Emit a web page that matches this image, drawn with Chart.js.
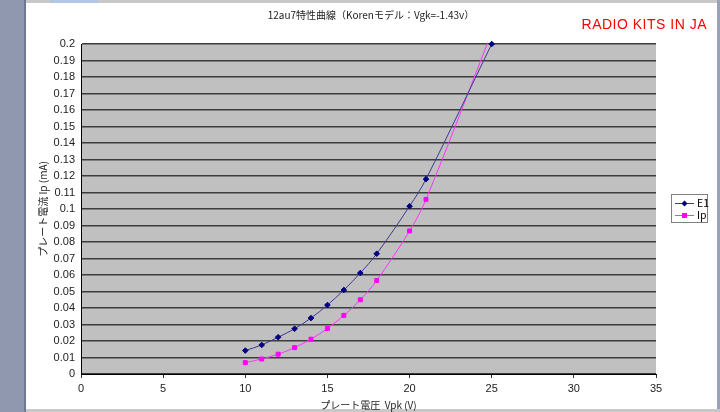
<!DOCTYPE html>
<html><head><meta charset="utf-8">
<script src="https://cdn.jsdelivr.net/npm/chart.js@4/dist/chart.umd.min.js"></script>
<style>
html,body{margin:0;padding:0;width:720px;height:412px;overflow:hidden;background:#fff;}
#wrap{position:relative;width:720px;height:412px;}
.l{position:absolute;left:0;top:0;width:24px;height:412px;background:#8f98ae;}
.l2{position:absolute;left:24px;top:0;width:2px;height:412px;background:#6f7890;}
.t{position:absolute;left:26px;top:0;width:694px;height:3px;background:#c8c8c8;}
.t2{position:absolute;left:50px;top:0;width:48px;height:3px;background:#b4c6e6;}
.r{position:absolute;left:717px;top:0;width:3px;height:412px;background:#9aa2b8;}
.b{position:absolute;left:26px;top:409px;width:694px;height:3px;background:#c8c8c8;}
canvas{position:absolute;left:0;top:0;}
</style></head>
<body><div id="wrap"><div class="l"></div><div class="l2"></div><div class="t"></div><div class="t2"></div><div class="r"></div><div class="b"></div>
<canvas id="c" width="720" height="412"></canvas></div>
<script>
const chartTitle = '12au7特性曲線（Korenモデル：Vgk=-1.43v）';
const brandText = 'RADIO KITS IN JA';
const xAxisTitle = 'プレート電圧  Vpk (V)';
const yAxisTitle = 'プレート電流 Ip (mA)';
const seriesNames = ['E1', 'Ip'];
const voltage = [10, 11, 12, 13, 14, 15, 16, 17, 18, 20, 21, 25];
const e1Values = [0.0142, 0.0176, 0.0223, 0.0274, 0.0339, 0.0418, 0.0509, 0.0612, 0.0729, 0.1017, 0.1181, 0.2];
const ipValues = [0.0069, 0.0091, 0.0120, 0.0160, 0.0211, 0.0276, 0.0355, 0.0450, 0.0567, 0.0867, 0.1058, 0.207];
const xMin = 0, xMax = 35, xStep = 5;
const yMin = 0, yMax = 0.2, yStep = 0.01;

const CJK = "'Noto Sans CJK JP', sans-serif";
const LAT = "'Liberation Sans', Arial, sans-serif";
const blueLine = '#3a3a94', blueMark = '#000080';
const pinkLine = '#ff33ff', pinkMark = '#ff00ff';

const bgPlugin = {
  id: 'bg',
  beforeDraw(chart) {
    const {ctx, chartArea: a} = chart;
    ctx.save();
    ctx.fillStyle = '#c0c0c0';
    ctx.fillRect(a.left, a.top, a.right - a.left, a.bottom - a.top);
    ctx.restore();
  },
  afterDraw(chart) {
    const ctx = chart.ctx;
    ctx.save();
    ctx.fillStyle = '#222';
    ctx.font = "10px " + CJK;
    ctx.textAlign = 'center';
    ctx.textBaseline = 'middle';
    ctx.fillText(chartTitle, 371, 15);
    ctx.fillStyle = '#ff0000';
    ctx.font = "14px " + LAT;
    ctx.textAlign = 'right';
    if ('letterSpacing' in ctx) ctx.letterSpacing = '0.5px';
    ctx.fillText(brandText, 707, 25);
    if ('letterSpacing' in ctx) ctx.letterSpacing = '0px';
    // legend
    ctx.fillStyle = '#fff';
    ctx.fillRect(671.5, 194.5, 36, 28);
    ctx.strokeStyle = '#808080';
    ctx.lineWidth = 1;
    ctx.strokeRect(671.5, 194.5, 36, 28);
    const items = [
      {name: seriesNames[0], line: blueLine, mark: blueMark, style: 'rectRot', y: 203.5},
      {name: seriesNames[1], line: pinkLine, mark: pinkMark, style: 'rect', y: 215.5}
    ];
    items.forEach(it => {
      ctx.strokeStyle = it.line;
      ctx.beginPath(); ctx.moveTo(675, it.y); ctx.lineTo(694, it.y); ctx.stroke();
      ctx.fillStyle = it.mark;
      ctx.beginPath();
      if (it.style === 'rect') ctx.fillRect(682, it.y - 2.5, 5, 5);
      else { ctx.moveTo(684.5, it.y - 3); ctx.lineTo(687.5, it.y); ctx.lineTo(684.5, it.y + 3); ctx.lineTo(681.5, it.y); ctx.closePath(); ctx.fill(); }
      ctx.fillStyle = '#000';
      ctx.font = "10.5px " + CJK;
      ctx.textAlign = 'left';
      ctx.fillText(it.name, 697, it.y);
    });
    ctx.restore();
  }
};

new Chart(document.getElementById('c'), {
  type: 'line',
  data: {
    datasets: [
      {label: seriesNames[0], data: voltage.map((v, i) => ({x: v, y: e1Values[i]})),
       borderColor: blueLine, backgroundColor: blueMark, pointBorderColor: blueMark,
       borderWidth: 1, pointStyle: 'rectRot', pointRadius: 2.8, pointBorderWidth: 1,
       tension: 0.35, clip: false},
      {label: seriesNames[1], data: voltage.map((v, i) => ({x: v, y: ipValues[i]})),
       borderColor: pinkLine, backgroundColor: pinkMark, pointBorderColor: pinkMark,
       borderWidth: 1, pointStyle: 'rect', pointRadius: 2.8, pointBorderWidth: 1,
       tension: 0.35, clip: {left: 0, right: 0, top: 1, bottom: 0}}
    ]
  },
  options: {
    responsive: false, animation: false, devicePixelRatio: 1,
    layout: {padding: {top: 44, right: 64, left: 30, bottom: 0}},
    plugins: {legend: {display: false}, title: {display: false}, tooltip: {enabled: false}},
    scales: {
      x: {
        type: 'linear', min: xMin, max: xMax,
        ticks: {stepSize: xStep, font: {family: LAT, size: 11}, color: '#222', padding: 4, autoSkip: false, maxRotation: 0},
        grid: {drawOnChartArea: false, drawTicks: true, tickLength: 4, color: '#333'},
        border: {display: true, color: '#000', width: 1},
        title: {display: true, text: xAxisTitle, color: '#222', font: {family: CJK, size: 10}, padding: {top: 0, bottom: 1}},
        afterFit: s => { s.height = 38; }
      },
      y: {
        type: 'linear', min: yMin, max: yMax,
        ticks: {stepSize: yStep, font: {family: LAT, size: 11}, color: '#222', padding: 6, autoSkip: false,
          callback: v => String(parseFloat(v.toFixed(2)))},
        grid: {drawTicks: false, color: '#3c3c3c', lineWidth: 1.5},
        border: {display: true, color: '#000', width: 1},
        title: {display: true, text: yAxisTitle, color: '#222', font: {family: CJK, size: 10}, padding: {top: 7, bottom: 0}},
        afterFit: s => { s.width = 51; }
      }
    }
  },
  plugins: [bgPlugin]
});
</script></body></html>
